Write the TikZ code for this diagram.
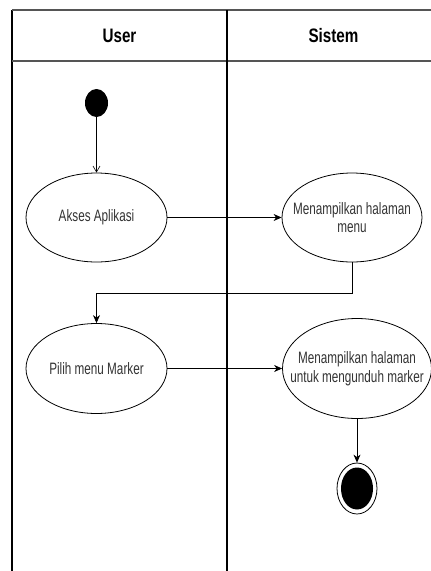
\documentclass[tikz,border=0pt]{standalone}
\usepackage{fontspec}
\setmainfont{Liberation Sans}[FakeStretch=0.71]
\newfontfamily\lanefont{Liberation Sans}[FakeStretch=0.78]
\usetikzlibrary{shapes.geometric,arrows.meta}
\definecolor{labelgray}{HTML}{333333}
\definecolor{topgray}{HTML}{555555}
\tikzset{
  lane/.style={line width=1.2pt,black},
  laneheader/.style={font=\lanefont\bfseries\fontsize{19.5}{24}\selectfont,text=black},
  % negative inner sep lets the minimum size alone fix the ellipse
  activity/.style={ellipse,draw=black,line width=0.8pt,inner sep=-25pt,
    align=center,text=labelgray,font=\fontsize{16.5}{18.5}\selectfont},
  initial/.style={ellipse,fill=black,draw=none,inner sep=0pt},
  flow/.style={line width=0.8pt,-{Stealth[length=8pt,width=7pt,inset=2.5pt]}},
  firstflow/.style={line width=0.6pt,-{Straight Barb[length=6pt,width=7pt]}}
}
\begin{document}
\begin{tikzpicture}[x=1pt,y=-1pt]
\useasboundingbox (0,0) rectangle (431,571);
% swimlane frame
\draw[lane] (12,580) -- (12,10);
\draw[line width=1.8pt,topgray] (12,10) -- (445,10);
\draw[line width=1.6pt,topgray] (12,61) -- (445,61);
\draw[lane] (227,10) -- (227,580);
\draw[lane] (440,10) -- (440,580);
\node[laneheader] (huser) at (119.5,35.5) {User};
\node[laneheader] (hsistem) at (333.5,35.5) {Sistem};
% activities
\node[initial,minimum width=23pt,minimum height=28pt] (start) at (96.5,103) {};
\node[activity,minimum width=141pt,minimum height=89pt] (akses) at (96.5,217.5) {Akses Aplikasi};
\node[activity,minimum width=140pt,minimum height=89pt] (menu) at (352,217.5) {Menampilkan halaman\\menu};
\node[activity,minimum width=141pt,minimum height=90pt] (pilih) at (96.5,368.5) {Pilih menu Marker};
\node[activity,minimum width=149pt,minimum height=100pt] (unduh) at (357,368.5) {Menampilkan halaman\\untuk mengunduh marker};
\node[ellipse,draw=black,line width=0.8pt,fill=white,minimum width=40pt,minimum height=51pt,inner sep=0pt] (stop) at (357,488.5) {};
\node[initial,minimum width=32pt,minimum height=42pt] (stopdot) at (stop.center) {};
% flows
\draw[firstflow] (start.south) -- (akses.north);
\draw[flow] (akses.east) -- (menu.west);
\draw[flow] (menu.south) -- ++(0,31) -| (pilih.north);
\draw[flow] (pilih.east) -- (unduh.west);
\draw[flow] (unduh.south) -- (stop.north);
\end{tikzpicture}
\end{document}
